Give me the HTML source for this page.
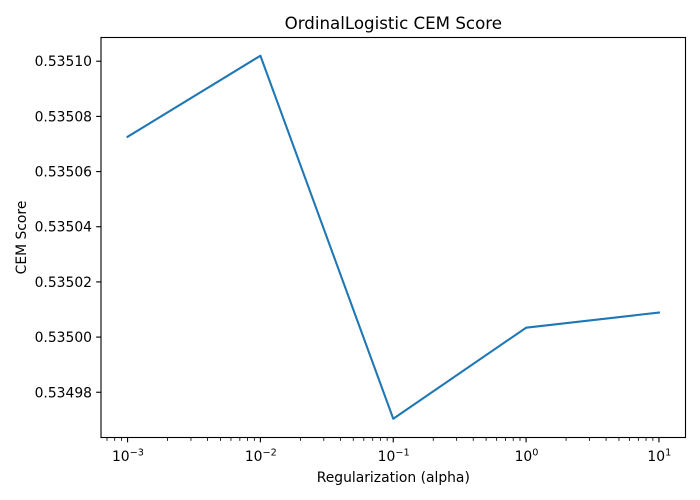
<!DOCTYPE html>
<html>
<head>
<meta charset="utf-8">
<style>
html,body{margin:0;padding:0;background:#fff;width:700px;height:500px;overflow:hidden}
svg{display:block}
text{font-family:"DejaVu Sans","Liberation Sans",sans-serif;fill:#000}
</style>
</head>
<body>
<svg id="chart" xmlns="http://www.w3.org/2000/svg" width="700" height="500" viewBox="0 0 700 500">
  <rect x="0" y="0" width="700" height="500" fill="#fff"/>
  <text x="393.3" y="29" font-size="16.67" text-anchor="middle">OrdinalLogistic CEM Score</text>
  <text x="393.3" y="482" font-size="13.89" text-anchor="middle">Regularization (alpha)</text>
  <text x="0" y="0" font-size="13.89" text-anchor="middle" transform="translate(26,237.5) rotate(-90)">CEM Score</text>
  <g id="marks"></g>
</svg>
<script>
const alphaValues = [0.001, 0.01, 0.1, 1, 10];
const cemScores = [0.5350726, 0.5351020, 0.5349704, 0.5350034, 0.5350089];
const xTickExponents = [-3, -2, -1, 0, 1];
const yTickValues = [0.53498, 0.535, 0.53502, 0.53504, 0.53506, 0.53508, 0.5351];
const yTickLabels = ['0.53498', '0.53500', '0.53502', '0.53504', '0.53506', '0.53508', '0.53510'];

const NS = 'http://www.w3.org/2000/svg';
const plot = { left: 101, right: 685.5, top: 37.5, bottom: 437.5 };
const xLogDomain = [-3.2, 1.2];
const yDomain = [0.5349636, 0.5351086];
const marks = document.getElementById('marks');

function xScale(v) {
  return plot.left + (Math.log10(v) - xLogDomain[0]) / (xLogDomain[1] - xLogDomain[0]) * (plot.right - plot.left);
}
function yScale(v) {
  return plot.bottom - (v - yDomain[0]) / (yDomain[1] - yDomain[0]) * (plot.bottom - plot.top);
}
function make(tag, attrs) {
  const el = document.createElementNS(NS, tag);
  for (const k in attrs) el.setAttribute(k, attrs[k]);
  marks.appendChild(el);
  return el;
}

// Minor x ticks
for (let e = -4; e <= 1; e++) {
  for (let m = 2; m <= 9; m++) {
    const v = m * Math.pow(10, e);
    const lg = Math.log10(v);
    if (lg < xLogDomain[0] || lg > xLogDomain[1]) continue;
    const x = xScale(v);
    const t = make('line', { x1: x, x2: x, y1: plot.bottom, y2: plot.bottom + 3.33, stroke: '#000', 'stroke-width': 0.83 });
    
    
  }
}

// Major x ticks and labels
xTickExponents.forEach(function (e) {
  const x = xScale(Math.pow(10, e));
  const t = make('line', { x1: x, x2: x, y1: plot.bottom, y2: plot.bottom + 4.86, stroke: '#000', 'stroke-width': 1.11 });
  
  
  const label = make('text', { x: x + 0.4, y: 461, 'font-size': 13.89, 'text-anchor': 'middle' });
  
  
  const base = document.createElementNS(NS, 'tspan');
  base.textContent = '10';
  label.appendChild(base);
  const sup = document.createElementNS(NS, 'tspan');
  sup.setAttribute('dy', '-5.6');
  sup.setAttribute('font-size', '9.72');
  sup.textContent = String(e).replace('-', '\u2212');
  label.appendChild(sup);
});

// Y ticks and labels
yTickValues.forEach(function (v, i) {
  const y = yScale(v);
  const t = make('line', { x1: plot.left - 4.86, x2: plot.left, y1: y, y2: y, stroke: '#000', 'stroke-width': 1.11 });
  
  
  const label = make('text', { x: 92, y: y + 5, 'font-size': 13.89, 'text-anchor': 'end' });
  
  
  label.textContent = yTickLabels[i];
});

// Series line
const points = alphaValues.map(function (a, i) {
  return xScale(a).toFixed(2) + ',' + yScale(cemScores[i]).toFixed(2);
}).join(' ');
const series = make('polyline', { points: points, fill: 'none', stroke: '#1f77b4', 'stroke-width': 2.08, 'stroke-linejoin': 'round', 'stroke-linecap': 'square' });



// Axes frame
const frame = make('rect', { x: plot.left, y: plot.top, width: plot.right - plot.left, height: plot.bottom - plot.top, fill: 'none', stroke: '#000', 'stroke-width': 1.11 });


</script>
</body>
</html>
